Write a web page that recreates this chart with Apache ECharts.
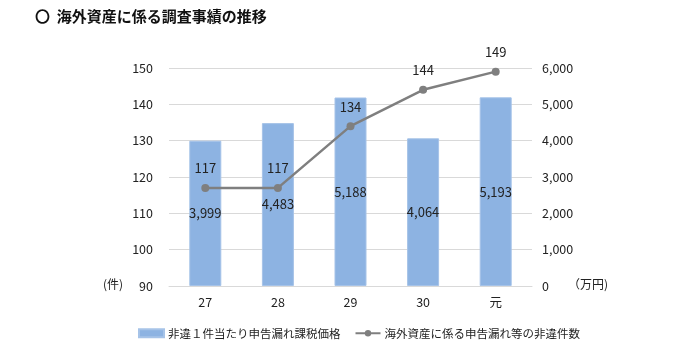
<!DOCTYPE html>
<html>
<head>
<meta charset="utf-8">
<script src="https://cdn.jsdelivr.net/npm/echarts@6/dist/echarts.min.js"></script>
<style>
  html, body { margin: 0; padding: 0; background: #fff; }
  #chart { width: 700px; height: 354px; }
</style>
</head>
<body>
<div id="chart"></div>
<script>
// 年度
const years = ["27", "28", "29", "30", "元"];
// 非違1件当たり申告漏れ課税価格（万円）
const amountPerCase = [3999, 4483, 5188, 4064, 5193];
// 海外資産に係る申告漏れ等の非違件数（件）
const caseCount = [117, 117, 134, 144, 149];

const font = "'Noto Sans CJK JP', 'Noto Sans', sans-serif";

const chart = echarts.init(document.getElementById("chart"));
chart.setOption({
  textStyle: { fontFamily: font },
  title: {
    text: "〇  海外資産に係る調査事績の推移",
    left: 30,
    top: 4,
    textStyle: { fontSize: 15, fontWeight: "bold", color: "#111", fontFamily: font },
  },
  legend: {
    bottom: 10,
    left: 133,
    itemGap: 14,
    itemStyle: {},
    textStyle: { fontSize: 11.5, color: "#222", padding: [0, 0, 0, -1] },
    data: [
      { name: "非違１件当たり申告漏れ課税価格", icon: "rect", itemWidth: 25, itemHeight: 7 },
      { name: "海外資産に係る申告漏れ等の非違件数" },
    ],
    itemWidth: 25,
    itemHeight: 8,
  },
  grid: { left: 169, right: 168, top: 68, bottom: 68 },
  xAxis: {
    type: "category",
    data: years,
    axisLine: { show: true, lineStyle: { color: "#d9d9d9" } },
    axisTick: { show: false },
    axisLabel: { fontSize: 12.5, color: "#222", margin: 10 },
  },
  yAxis: [
    {
      type: "value",
      min: 90,
      max: 150,
      interval: 10,
      position: "left",
      axisLine: { show: false },
      axisTick: { show: false },
      axisLabel: { fontSize: 12.5, color: "#222", margin: 16 },
      splitLine: { lineStyle: { color: "#d9d9d9" } },
    },
    {
      type: "value",
      min: 0,
      max: 6000,
      interval: 1000,
      position: "right",
      axisLine: { show: false },
      axisTick: { show: false },
      axisLabel: {
        fontSize: 12.5,
        color: "#222",
        margin: 10,
        formatter: (v) => v.toLocaleString("en-US"),
      },
      splitLine: { show: false },
    },
  ],
  graphic: [
    { type: "text", left: 103, top: 278, style: { text: "(件)", fontSize: 12, fill: "#222", fontFamily: font } },
    { type: "text", left: 568, top: 278, style: { text: "（万円)", fontSize: 12, fill: "#222", fontFamily: font } },
  ],
  series: [
    {
      name: "非違１件当たり申告漏れ課税価格",
      type: "bar",
      yAxisIndex: 1,
      data: amountPerCase,
      barWidth: 32,
      itemStyle: { color: "#8db3e2", borderColor: "#a6c3e8", borderWidth: 1 },
      label: {
        show: true,
        position: "inside",
        fontSize: 13,
        color: "#222",
        formatter: (p) => p.value.toLocaleString("en-US"),
      },
      z: 1,
    },
    {
      name: "海外資産に係る申告漏れ等の非違件数",
      type: "line",
      yAxisIndex: 0,
      data: caseCount,
      symbol: "circle",
      symbolSize: 8,
      lineStyle: { color: "#7f7f7f", width: 2.5 },
      itemStyle: { color: "#7f7f7f" },
      label: {
        show: true,
        position: "top",
        distance: 9,
        fontSize: 13,
        color: "#222",
      },
      z: 3,
    },
  ],
});
</script>
</body>
</html>
